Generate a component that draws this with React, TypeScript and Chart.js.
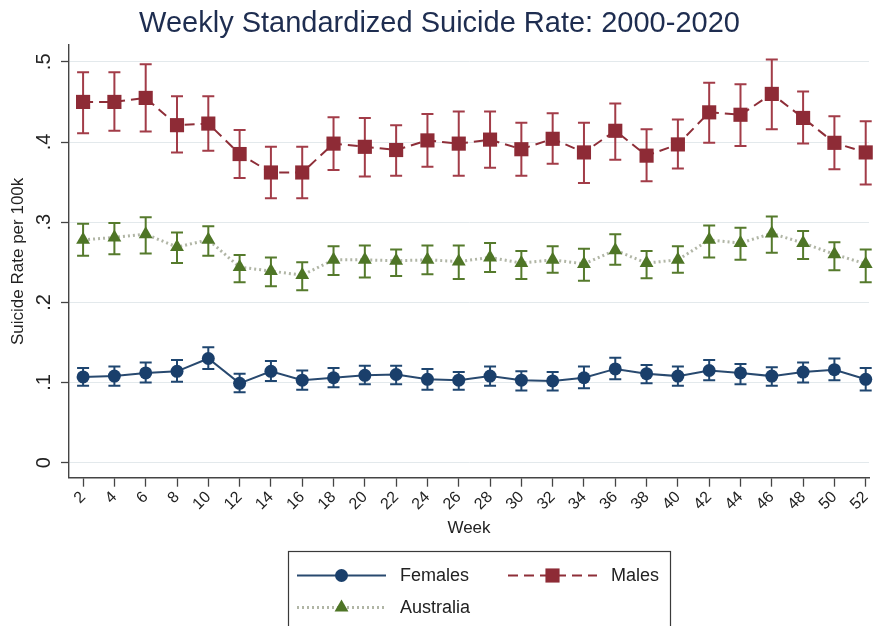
import React, { useEffect, useRef } from 'react';
import { Chart, registerables } from 'chart.js';

Chart.register(...registerables);

// Week of year (x axis)
const weeks = [2, 4, 6, 8, 10, 12, 14, 16, 18, 20, 22, 24, 26, 28, 30, 32, 34, 36, 38, 40, 42, 44, 46, 48, 50, 52];

// Females: standardized rate and 95% interval
const femalesRate = [0.107, 0.108, 0.112, 0.114, 0.130, 0.099, 0.114, 0.103, 0.106, 0.109, 0.110, 0.104, 0.103, 0.108, 0.103, 0.102, 0.106, 0.117, 0.111, 0.108, 0.115, 0.112, 0.108, 0.113, 0.116, 0.104];
const femalesLow = [0.096, 0.096, 0.100, 0.101, 0.117, 0.088, 0.102, 0.091, 0.094, 0.098, 0.098, 0.091, 0.091, 0.096, 0.090, 0.090, 0.093, 0.104, 0.099, 0.096, 0.103, 0.098, 0.096, 0.100, 0.103, 0.090];
const femalesHigh = [0.118, 0.120, 0.125, 0.128, 0.144, 0.111, 0.127, 0.115, 0.118, 0.121, 0.121, 0.117, 0.113, 0.120, 0.114, 0.113, 0.120, 0.131, 0.122, 0.120, 0.128, 0.123, 0.119, 0.125, 0.130, 0.118];

// Males: standardized rate and 95% interval
const malesRate = [0.450, 0.450, 0.455, 0.421, 0.423, 0.385, 0.362, 0.362, 0.398, 0.394, 0.390, 0.402, 0.398, 0.403, 0.391, 0.404, 0.387, 0.414, 0.383, 0.397, 0.437, 0.434, 0.460, 0.430, 0.399, 0.387];
const malesLow = [0.411, 0.414, 0.413, 0.387, 0.389, 0.355, 0.330, 0.330, 0.365, 0.357, 0.358, 0.369, 0.358, 0.368, 0.358, 0.373, 0.349, 0.378, 0.351, 0.367, 0.399, 0.395, 0.416, 0.398, 0.366, 0.347];
const malesHigh = [0.487, 0.487, 0.497, 0.457, 0.457, 0.415, 0.394, 0.394, 0.431, 0.430, 0.421, 0.435, 0.438, 0.438, 0.424, 0.436, 0.424, 0.448, 0.416, 0.428, 0.474, 0.472, 0.503, 0.463, 0.432, 0.426];

// Australia (persons): standardized rate and 95% interval
const australiaRate = [0.278, 0.281, 0.285, 0.269, 0.278, 0.244, 0.239, 0.234, 0.253, 0.253, 0.252, 0.253, 0.251, 0.256, 0.249, 0.253, 0.248, 0.265, 0.249, 0.253, 0.278, 0.274, 0.286, 0.274, 0.260, 0.248];
const australiaLow = [0.258, 0.260, 0.261, 0.249, 0.258, 0.225, 0.220, 0.215, 0.234, 0.231, 0.233, 0.235, 0.229, 0.238, 0.229, 0.237, 0.227, 0.247, 0.230, 0.237, 0.256, 0.253, 0.262, 0.254, 0.240, 0.225];
const australiaHigh = [0.298, 0.299, 0.306, 0.287, 0.295, 0.259, 0.256, 0.250, 0.270, 0.271, 0.266, 0.271, 0.271, 0.274, 0.264, 0.270, 0.267, 0.285, 0.264, 0.270, 0.296, 0.293, 0.307, 0.289, 0.275, 0.266];

// Y axis tick values
const yTicks = [0, 0.1, 0.2, 0.3, 0.4, 0.5];

const FONT = '"Liberation Sans", Arial, Helvetica, sans-serif';

type Series = {
  label: string;
  rate: number[];
  low: number[];
  high: number[];
  color: string;
  barColor: string;
  lineColor: string;
  lineWidth: number;
  dash: number[];
  pointStyle: string;
  radius: number;
};

const series: Series[] = [
  {
    label: 'Females', rate: femalesRate, low: femalesLow, high: femalesHigh,
    color: '#1a3f6b', barColor: '#1f4670', lineColor: '#28496f', lineWidth: 2, dash: [],
    pointStyle: 'circle', radius: 6.5,
  },
  {
    label: 'Males', rate: malesRate, low: malesLow, high: malesHigh,
    color: '#8e2b36', barColor: '#a23c48', lineColor: '#8e2e38', lineWidth: 2, dash: [10, 6],
    pointStyle: 'rect', radius: 10,
  },
  {
    label: 'Australia', rate: australiaRate, low: australiaLow, high: australiaHigh,
    color: '#4e7526', barColor: '#557a2c', lineColor: 'rgba(168,174,156,0.9)', lineWidth: 3, dash: [2, 3],
    pointStyle: 'triangle', radius: 8,
  },
];

// Marker shapes for the legend keys, same geometry as the plotted points
function drawMarker(ctx: CanvasRenderingContext2D, style: string, r: number, x: number, y: number) {
  ctx.beginPath();
  if (style === 'circle') {
    ctx.arc(x, y, r, 0, Math.PI * 2);
  } else if (style === 'rect') {
    const h = Math.SQRT1_2 * r;
    ctx.rect(x - h, y - h, 2 * h, 2 * h);
  } else {
    let a = 0;
    ctx.moveTo(x + Math.sin(a) * r, y - Math.cos(a) * r);
    a += (2 * Math.PI) / 3;
    ctx.lineTo(x + Math.sin(a) * r, y - Math.cos(a) * r);
    a += (2 * Math.PI) / 3;
    ctx.lineTo(x + Math.sin(a) * r, y - Math.cos(a) * r);
    ctx.closePath();
  }
  ctx.fill();
}

// Vertical confidence-interval bars with caps, drawn under the markers
const errorBarPlugin = {
  id: 'errorBars',
  beforeDatasetsDraw(chart: any) {
    const { ctx } = chart;
    const xs = chart.scales.x;
    const ys = chart.scales.y;
    const cap = 6;
    ctx.save();
    chart.data.datasets.forEach((ds: any) => {
      const s: Series = ds.series;
      ctx.strokeStyle = s.barColor;
      ctx.lineWidth = 2;
      ctx.setLineDash([]);
      weeks.forEach((w, i) => {
        const px = xs.getPixelForValue(w);
        const top = ys.getPixelForValue(s.high[i]);
        const bot = ys.getPixelForValue(s.low[i]);
        ctx.beginPath();
        ctx.moveTo(px, top);
        ctx.lineTo(px, bot);
        ctx.moveTo(px - cap, top);
        ctx.lineTo(px + cap, top);
        ctx.moveTo(px - cap, bot);
        ctx.lineTo(px + cap, bot);
        ctx.stroke();
      });
    });
    ctx.restore();
  },
};

// Vertical y tick labels (read bottom to top)
const yLabelPlugin = {
  id: 'yLabels',
  afterDraw(chart: any) {
    const { ctx } = chart;
    const ys = chart.scales.y;
    ctx.save();
    ctx.fillStyle = '#222';
    ctx.font = `20px ${FONT}`;
    ctx.textAlign = 'center';
    ctx.textBaseline = 'middle';
    ys.ticks.forEach((t: any) => {
      const py = ys.getPixelForValue(t.value);
      const text = t.value === 0 ? '0' : t.value.toFixed(1).replace(/^0/, '');
      ctx.save();
      ctx.translate(44, py);
      ctx.rotate(-Math.PI / 2);
      ctx.fillText(text, 0, 0);
      ctx.restore();
    });
    ctx.restore();
  },
};

// Boxed legend beneath the plot, two columns
const legendPlugin = {
  id: 'boxLegend',
  afterDraw(chart: any) {
    const { ctx } = chart;
    const boxL = 288.5, boxT = 551.5, boxR = 670.5, boxB = 660;
    ctx.save();
    ctx.strokeStyle = '#3a3a3a';
    ctx.lineWidth = 1.2;
    ctx.setLineDash([]);
    ctx.strokeRect(boxL, boxT, boxR - boxL, boxB - boxT);

    const slots = [
      { x: 297, y: 575.5 },
      { x: 508, y: 575.5 },
      { x: 297, y: 607.5 },
    ];
    const sampleW = 89;
    chart.data.datasets.forEach((ds: any, i: number) => {
      const s: Series = ds.series;
      const { x, y } = slots[i];
      ctx.save();
      ctx.strokeStyle = s.lineColor;
      ctx.lineWidth = s.lineWidth;
      ctx.setLineDash(s.dash);
      ctx.beginPath();
      ctx.moveTo(x, y);
      ctx.lineTo(x + sampleW, y);
      ctx.stroke();
      ctx.restore();
      ctx.fillStyle = s.color;
      drawMarker(ctx, s.pointStyle, s.radius, x + sampleW / 2, y);
      ctx.fillStyle = '#222';
      ctx.font = `18px ${FONT}`;
      ctx.textAlign = 'left';
      ctx.textBaseline = 'middle';
      ctx.fillText(s.label, x + sampleW + 14, y + 1);
    });
    ctx.restore();
  },
};

export default function App() {
  const canvasRef = useRef<HTMLCanvasElement | null>(null);

  useEffect(() => {
    const canvas = canvasRef.current;
    if (!canvas) return;

    const datasets = series.map((s) => ({
      label: s.label,
      data: weeks.map((w, i) => ({ x: w, y: s.rate[i] })),
      series: s,
      borderColor: s.lineColor,
      borderWidth: s.lineWidth,
      borderDash: s.dash,
      pointStyle: s.pointStyle,
      pointRadius: s.radius,
      pointBackgroundColor: s.color,
      pointBorderColor: s.color,
      pointBorderWidth: 0,
      tension: 0,
      fill: false,
      clip: false,
    }));

    const chart = new Chart(canvas, {
      type: 'line',
      data: { datasets } as any,
      plugins: [errorBarPlugin, yLabelPlugin, legendPlugin],
      options: {
        animation: false,
        responsive: false,
        maintainAspectRatio: false,
        events: [],
        layout: { padding: { left: 0, right: 0, top: 0, bottom: 86 } },
        plugins: {
          legend: { display: false },
          tooltip: { enabled: false },
          title: {
            display: true,
            text: 'Weekly Standardized Suicide Rate: 2000-2020',
            color: '#1e2d50',
            font: { family: FONT, size: 29, weight: 'normal' },
            padding: { top: 7, bottom: 3.2 },
          },
        },
        scales: {
          x: {
            type: 'linear',
            min: 1.1,
            max: 52.21,
            afterBuildTicks: (scale: any) => {
              scale.ticks = weeks.map((w) => ({ value: w }));
            },
            afterFit: (scale: any) => {
              scale.height = 62.3;
              scale.paddingLeft = 0;
              scale.paddingRight = 0;
            },
            ticks: {
              autoSkip: false,
              minRotation: 45,
              maxRotation: 45,
              padding: 1,
              color: '#222',
              font: { family: FONT, size: 16 },
              callback: (v: any) => String(v),
            },
            grid: {
              drawOnChartArea: false,
              drawTicks: true,
              tickLength: 9,
              tickColor: '#444',
              tickWidth: 1.3,
            },
            border: { display: true, color: '#444', width: 1.4 },
            title: {
              display: true,
              text: 'Week',
              color: '#222',
              font: { family: FONT, size: 17 },
              padding: { top: 0, bottom: 1 },
            },
          },
          y: {
            type: 'linear',
            min: -0.0187,
            max: 0.521,
            afterBuildTicks: (scale: any) => {
              scale.ticks = yTicks.map((v) => ({ value: v }));
            },
            afterFit: (scale: any) => {
              scale.width = 69;
            },
            ticks: { display: false },
            grid: {
              color: '#e3e9ec',
              lineWidth: 1,
              drawTicks: true,
              tickLength: 8,
              tickColor: '#444',
              tickWidth: 1.3,
            },
            border: { display: true, color: '#444', width: 1.4 },
            title: {
              display: true,
              text: 'Suicide Rate per 100k',
              color: '#222',
              font: { family: FONT, size: 17 },
              padding: { top: 8, bottom: 0 },
            },
          },
        },
      } as any,
    });

    return () => {
      chart.destroy();
    };
  }, []);

  return (
    <div style={{ position: 'fixed', left: 0, top: 0, width: 879, height: 626, background: '#ffffff', overflow: 'hidden' }}>
      <canvas ref={canvasRef} width={879} height={626} style={{ display: 'block', width: 879, height: 626 }} />
    </div>
  );
}
